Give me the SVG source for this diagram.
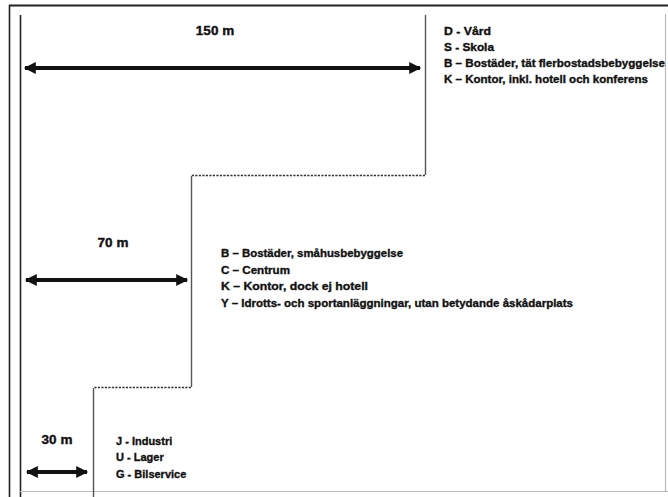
<svg xmlns="http://www.w3.org/2000/svg" width="668" height="497" viewBox="0 0 668 497">
<defs>
<style>
.frame{stroke:#222;stroke-width:1.6;fill:none}
.faint{stroke:#bbb;stroke-width:1.2;fill:none}
.bound{stroke:#555;stroke-width:1.4;fill:none}
.dash{stroke:#333;stroke-width:1.6;stroke-dasharray:2.2 1.3;fill:none}
.arrow{stroke:#111;stroke-width:4;fill:none;marker-start:url(#ah);marker-end:url(#ah)}
.lbl{font-family:"Liberation Sans",Arial,sans-serif;font-weight:bold;font-size:11px;fill:#111;stroke:#111;stroke-width:0.35}
.dim{font-family:"Liberation Sans",Arial,sans-serif;font-weight:bold;font-size:13.5px;fill:#111;stroke:#111;stroke-width:0.4;text-anchor:middle}
</style>
<marker id="ah" viewBox="0 0 10 10" refX="9" refY="5" markerWidth="3.6" markerHeight="3" orient="auto-start-reverse" markerUnits="strokeWidth">
<path d="M0,0 L10,5 L0,10 Z" fill="#111"/>
</marker>
</defs>
<rect width="668" height="497" fill="#fff"/>
<g id="frame">
<line class="frame" x1="9" y1="5.5" x2="668" y2="5.5" style="stroke-width:2"/>
<line class="frame" x1="9.5" y1="5" x2="9.5" y2="497"/>
<line class="frame" x1="20.5" y1="15" x2="20.5" y2="497"/>
<line class="faint" x1="20" y1="491.5" x2="668" y2="491.5"/>
<line class="faint" x1="665.5" y1="14" x2="665.5" y2="491"/>
</g>
<g id="connectors">
<path class="bound" d="M425.5,15 V175"/>
<path class="dash" d="M425,175.5 H191.5"/>
<path class="bound" d="M191.5,176 V387"/>
<path class="dash" d="M191,387.5 H93.5"/>
<path class="bound" d="M93.5,388 V497"/>
<line class="arrow" x1="25" y1="68" x2="420" y2="68"/>
<line class="arrow" x1="26" y1="280" x2="187" y2="280"/>
<line class="arrow" x1="27" y1="472" x2="87" y2="472"/>
</g>
<g id="zone150">
<text class="dim" x="215" y="35">150 m</text>
<text class="lbl" x="444" y="35" textLength="47" lengthAdjust="spacingAndGlyphs">D - Vård</text>
<text class="lbl" x="444" y="51" textLength="50" lengthAdjust="spacingAndGlyphs">S - Skola</text>
<text class="lbl" x="444" y="67" textLength="221" lengthAdjust="spacingAndGlyphs">B – Bostäder, tät flerbostadsbebyggelse</text>
<text class="lbl" x="444" y="83" textLength="204" lengthAdjust="spacingAndGlyphs">K – Kontor, inkl. hotell och konferens</text>
</g>
<g id="zone70">
<text class="dim" x="113" y="247">70 m</text>
<text class="lbl" x="221" y="257" textLength="182" lengthAdjust="spacingAndGlyphs">B – Bostäder, småhusbebyggelse</text>
<text class="lbl" x="221" y="274" textLength="69" lengthAdjust="spacingAndGlyphs">C – Centrum</text>
<text class="lbl" x="221" y="290" textLength="147" lengthAdjust="spacingAndGlyphs">K – Kontor, dock ej hotell</text>
<text class="lbl" x="221" y="307" textLength="352" lengthAdjust="spacingAndGlyphs">Y – Idrotts- och sportanläggningar, utan betydande åskådarplats</text>
</g>
<g id="zone30">
<text class="dim" x="57" y="444">30 m</text>
<text class="lbl" x="116" y="445">J - Industri</text>
<text class="lbl" x="116" y="461">U - Lager</text>
<text class="lbl" x="116" y="478">G - Bilservice</text>
</g>
</svg>
